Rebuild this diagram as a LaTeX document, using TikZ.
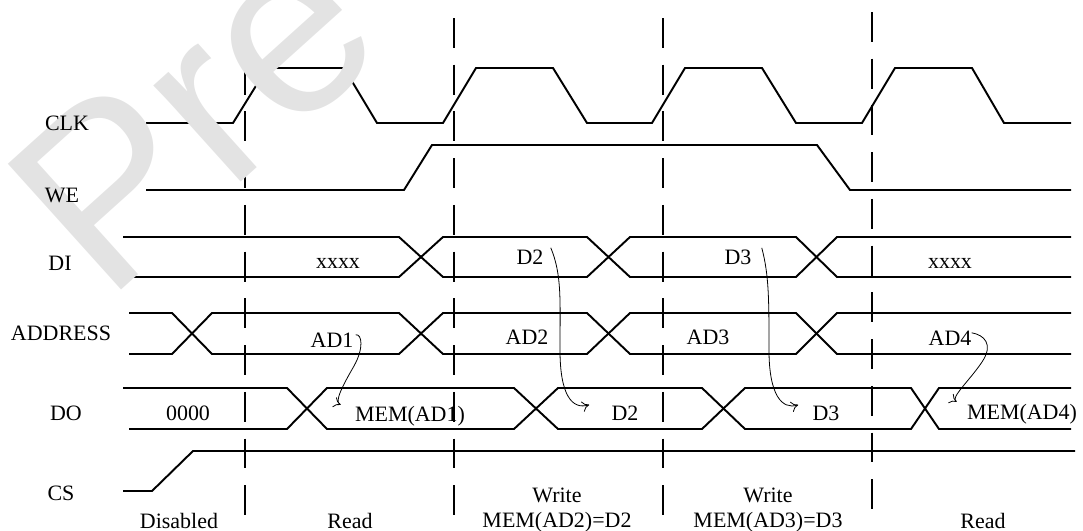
\documentclass[tikz,border=0pt]{standalone}
\usepackage{fontspec}
\setmainfont{Liberation Serif}
\newfontfamily\wmfont{Liberation Sans}
\usetikzlibrary{arrows.meta}
\begin{document}
\begin{tikzpicture}[x=0.02cm,y=-0.02cm,
  sig/.style={line width=1.1pt, line join=miter},
  gridline/.style={line width=1.1pt, dash pattern=on 17pt off 9.6pt},
  lbl/.style={font=\fontsize{12.5}{14}\selectfont, inner sep=0pt, anchor=base},
  flow/.style={line width=0.45pt, -{To[length=4pt,width=6pt]}},
]
\useasboundingbox (0,0) rectangle (1083,531);
% dashed phase separators
\draw[gridline] (245,18) -- (245,515);
\draw[gridline] (454,18) -- (454,515);
\draw[gridline] (663,18) -- (663,515);
\draw[gridline] (872,12) -- (872,510);
% CLK
\draw[sig] (146,123) -- (233,123) -- (267,68) -- (344,68) -- (377,123) -- (443,123) -- (476,68) -- (553,68) -- (587,123)
  -- (652,123) -- (685,68) -- (762,68) -- (796,123) -- (862,123) -- (895,68) -- (972,68) -- (1004,123) -- (1071,123);
% WE
\draw[sig] (146,190) -- (404,190) -- (432,145) -- (817,145) -- (850,190) -- (1071,190);
% DI
\draw[sig] (123,237) -- (399,237) -- (443,277) -- (587,277) -- (630,237) -- (796,237) -- (837,277) -- (1071,277);
\draw[sig] (123,277) -- (399,277) -- (443,237) -- (587,237) -- (630,277) -- (796,277) -- (837,237) -- (1071,237);
% ADDRESS
\draw[sig] (129,313) -- (172,313) -- (212,354) -- (399,354) -- (443,313) -- (587,313) -- (630,354) -- (796,354) -- (837,313) -- (1071,313);
\draw[sig] (129,354) -- (172,354) -- (212,313) -- (399,313) -- (443,354) -- (587,354) -- (630,313) -- (796,313) -- (837,354) -- (1071,354);
% DO
\draw[sig] (123,388) -- (287,388) -- (327,429) -- (514,429) -- (558,388) -- (702,388) -- (745,429) -- (911,429) -- (939,388) -- (1071,388);
\draw[sig] (129,429) -- (287,429) -- (327,388) -- (514,388) -- (558,429) -- (702,429) -- (745,388) -- (911,388) -- (939,429) -- (1071,429);
% CS
\draw[sig] (123,491) -- (152,491) -- (193,451) -- (1075,451);
% watermark
\node[rotate=42, anchor=base west, inner sep=0pt, text=black!11,
  font=\fontsize{140}{140}\selectfont\wmfont] (wm) at (106,304) {Pre};
% signal names
\node[lbl] (lclk) at (67,130) {CLK};
\node[lbl] (lwe) at (62,202) {WE};
\node[lbl] (ldi) at (60,270) {DI};
\node[lbl] (laddr) at (61,340) {ADDRESS};
\node[lbl] (ldo) at (66,420) {DO};
\node[lbl] (lcs) at (61,500) {CS};
% values
\node[lbl] (t0000) at (188,420) {0000};
\node[lbl] (txa) at (338,268) {xxxx};
\node[lbl] (tD2i) at (530,264) {D2};
\node[lbl] (tD3i) at (738,264) {D3};
\node[lbl] (txb) at (950,268) {xxxx};
\node[lbl] (tAD1) at (332,347) {AD1};
\node[lbl] (tAD2) at (527,344) {AD2};
\node[lbl] (tAD3) at (708,344) {AD3};
\node[lbl] (tAD4) at (950,345) {AD4};
\node[lbl] (tM1) at (410,421) {MEM(AD1)};
\node[lbl] (tD2o) at (625,420) {D2};
\node[lbl] (tD3o) at (826,420) {D3};
\node[lbl] (tM4) at (1022,419) {MEM(AD4)};
% phases
\node[lbl] (p1) at (179,528) {Disabled};
\node[lbl] (p2) at (350,528) {Read};
\node[lbl] (p3a) at (557,502) {Write};
\node[lbl] (p3) at (557,527) {MEM(AD2)=D2};
\node[lbl] (p4a) at (768,502) {Write};
\node[lbl] (p4) at (768,527) {MEM(AD3)=D3};
\node[lbl] (p5) at (983,528) {Read};
% data flow arrows
\draw[flow] ([shift={(2,-5)}]tAD1.east) .. controls (362,334) and (364,348) .. (354,366)
  .. controls (343,385) and (334,402) .. ([shift={(-14,-11)}]tM1.west);
\draw[flow] ([shift={(7,-9)}]tD2i.east) .. controls (562,275) and (560,300) .. (560,350)
  .. controls (560,395) and (572,410) .. ([shift={(-22,-8)}]tD2o.west);
\draw[flow] ([shift={(10,-9)}]tD3i.east) .. controls (769,275) and (769,300) .. (769,350)
  .. controls (769,395) and (782,410) .. ([shift={(-14,-8)}]tD3o.west);
\draw[flow] ([shift={(0,-5)}]tAD4.east) .. controls (984,335) and (994,344) .. (982,362)
  .. controls (970,380) and (950,398) .. ([shift={(-10,-12)}]tM4.west);
\end{tikzpicture}
\end{document}
